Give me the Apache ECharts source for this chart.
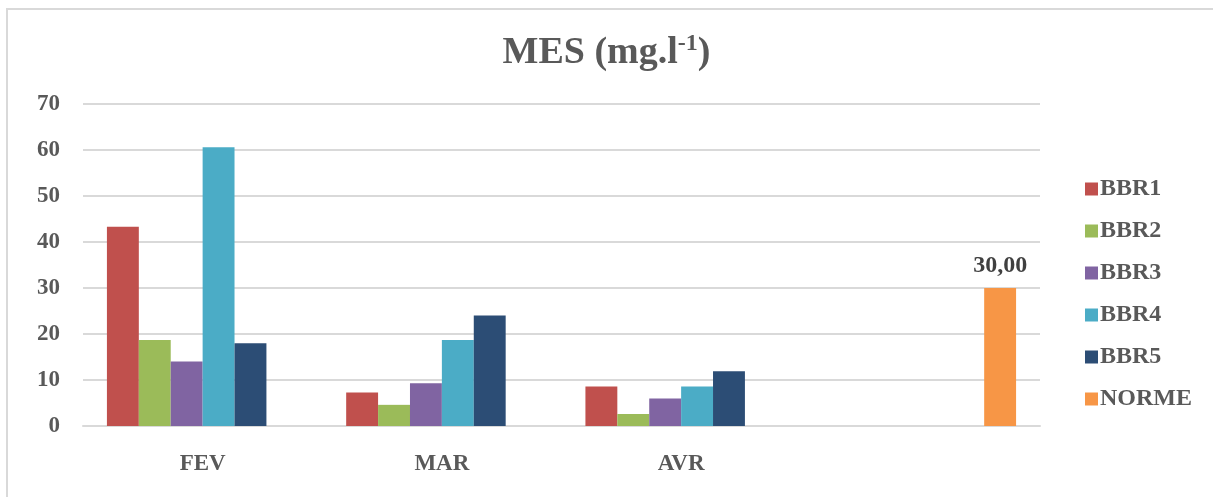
<!DOCTYPE html>
<html>
<head>
<meta charset="utf-8">
<script src="https://cdn.jsdelivr.net/npm/echarts@6/dist/echarts.min.js"></script>
<style>
html,body{margin:0;padding:0;background:#fff;}
#frame{position:absolute;left:6px;top:8px;width:1207px;height:489px;border-top:2px solid #d9d9d9;border-left:2px solid #d9d9d9;box-sizing:border-box;}
#chart{position:absolute;left:0;top:0;width:1213px;height:497px;}
</style>
</head>
<body>
<div id="frame"></div>
<div id="chart"></div>
<script>
var categories = ['FEV', 'MAR', 'AVR', ''];
var seriesNames = ['BBR1', 'BBR2', 'BBR3', 'BBR4', 'BBR5', 'NORME'];
var bbr1 = [43.3, 7.3, 8.6, null];
var bbr2 = [18.7, 4.6, 2.6, null];
var bbr3 = [14.0, 9.3, 6.0, null];
var bbr4 = [60.6, 18.7, 8.6, null];
var bbr5 = [18.0, 24.0, 11.9, null];
var norme = [null, null, null, 30.0];
var yTicks = [0, 10, 20, 30, 40, 50, 60, 70];
var colors = ['#c0504d', '#9bbb59', '#8064a2', '#4bacc6', '#2c4d75', '#f79646'];

var font = '"Liberation Serif", "Times New Roman", serif';
var values = [bbr1, bbr2, bbr3, bbr4, bbr5, norme];

var chart = echarts.init(document.getElementById('chart'));
var series = seriesNames.map(function (n, i) {
  var s = {
    name: n,
    type: 'bar',
    data: values[i],
    barGap: '0%',
    barCategoryGap: '20%',
    itemStyle: { color: colors[i] }
  };
  if (n === 'NORME') {
    s.label = {
      show: true,
      position: 'top',
      distance: 10,
      fontFamily: font,
      fontWeight: 'bold',
      fontSize: 24,
      color: '#404040',
      formatter: function (p) { return p.value.toFixed(2).replace('.', ','); }
    };
  }
  return s;
});

chart.setOption({
  animation: false,
  color: colors,
  title: {
    text: '{a|MES (mg.l}{s|-1}{a|)}',
    left: 'center',
    top: 27,
    textStyle: {
      rich: {
        a: { fontFamily: font, fontWeight: 'bold', fontSize: 38, color: '#595959' },
        s: { fontFamily: font, fontWeight: 'bold', fontSize: 24, color: '#595959', verticalAlign: 'top', padding: [0, 0, 18, 0] }
      }
    }
  },
  legend: {
    orient: 'vertical',
    left: 1080,
    top: 172,
    itemWidth: 13,
    itemHeight: 13,
    itemGap: 18,
    icon: 'rect',
    textStyle: { fontFamily: font, fontWeight: 'bold', fontSize: 24, color: '#595959', padding: [0, 0, 0, -3] },
    data: seriesNames
  },
  grid: { left: 83, right: 173, top: 104, bottom: 71, containLabel: false },
  xAxis: {
    type: 'category',
    data: categories,
    axisLine: { show: true, lineStyle: { color: '#d9d9d9', width: 2 } },
    axisTick: { show: false },
    axisLabel: { fontFamily: font, fontWeight: 'bold', fontSize: 23, color: '#595959', margin: 27 }
  },
  yAxis: {
    type: 'value',
    min: 0,
    max: 70,
    interval: 10,
    axisLine: { show: false },
    axisTick: { show: false },
    splitLine: { lineStyle: { color: '#d9d9d9', width: 2 } },
    axisLabel: {
      fontFamily: font, fontWeight: 'bold', fontSize: 23, color: '#595959', margin: 23,
      formatter: function (v) { return yTicks.indexOf(v) >= 0 ? String(v) : ''; }
    }
  },
  series: series
});
</script>
</body>
</html>
